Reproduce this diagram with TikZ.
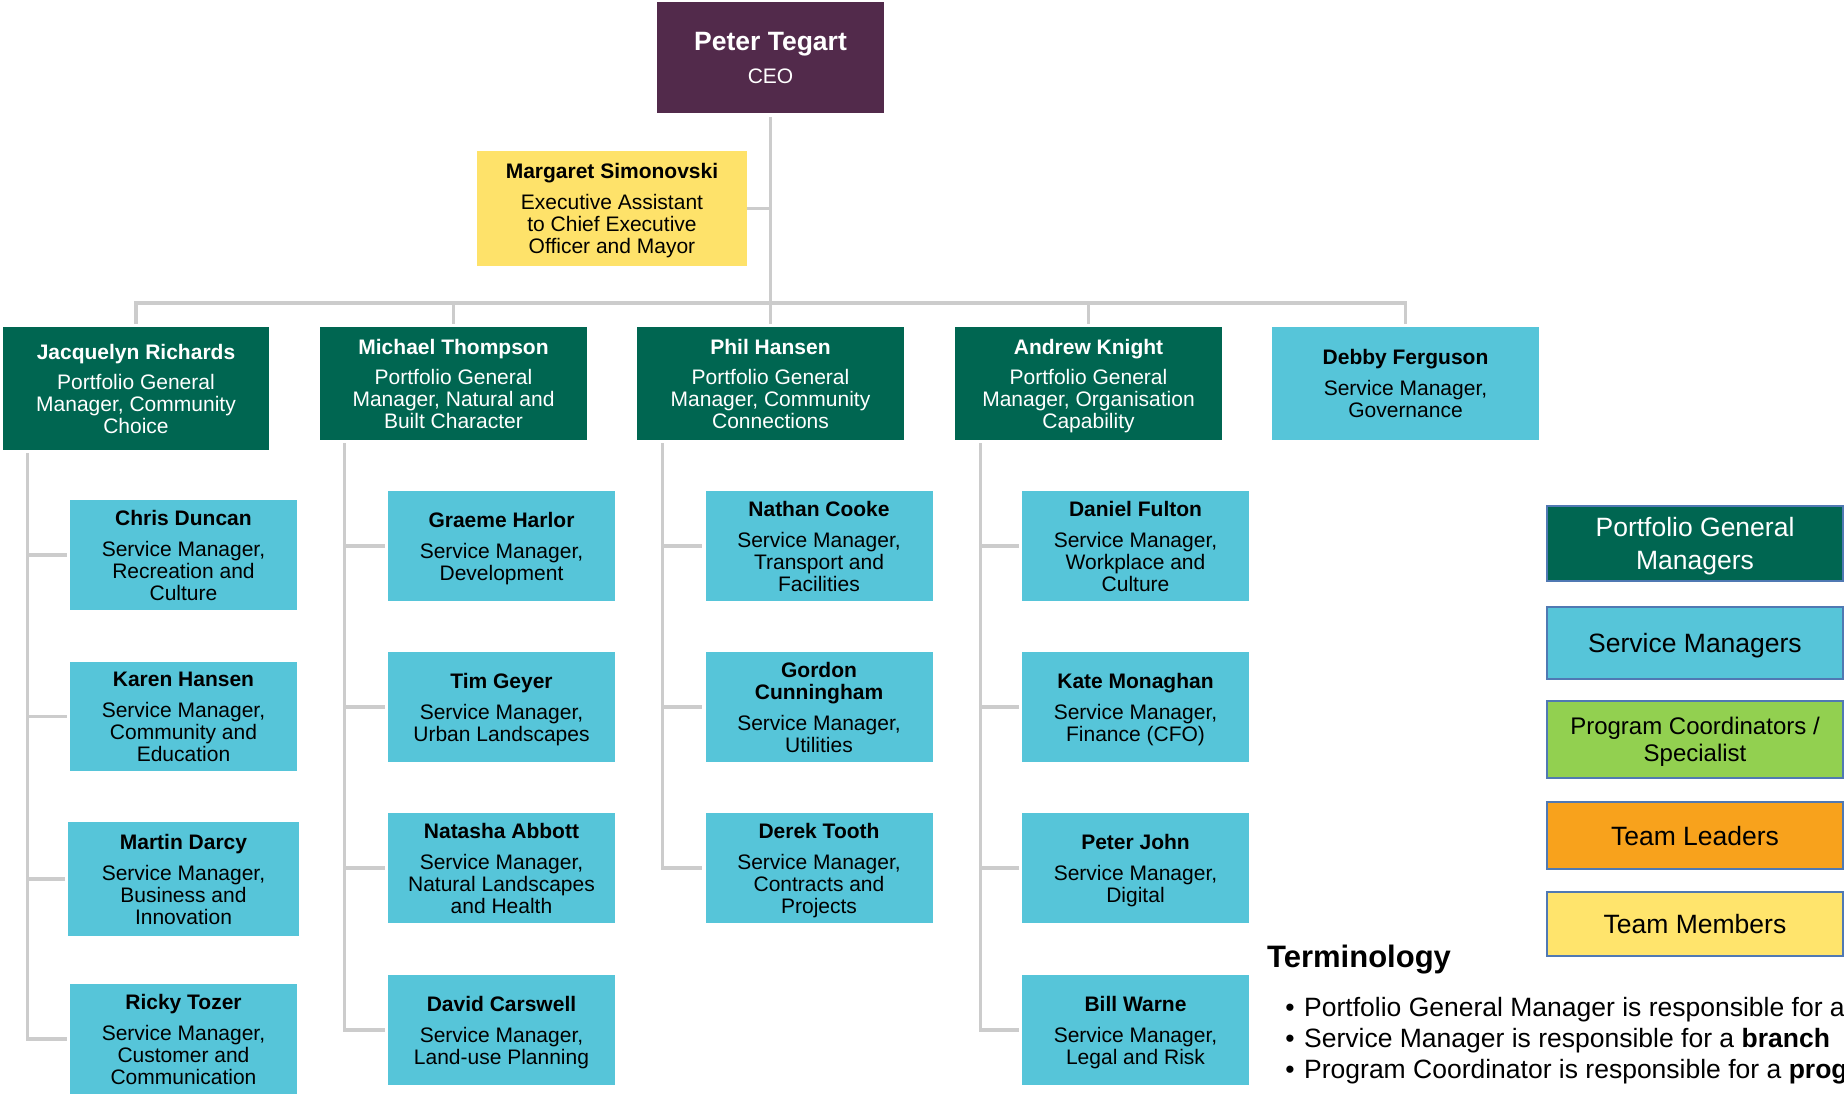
\documentclass[tikz,border=0pt]{standalone}
\usepackage{fontspec}
\setmainfont{Liberation Sans}
\usetikzlibrary{calc}
\definecolor{ceoC}{HTML}{522A4B}
\definecolor{pgmC}{HTML}{006651}
\definecolor{smC}{HTML}{56C5D9}
\definecolor{eaC}{HTML}{FEE26A}
\definecolor{pcC}{HTML}{92D050}
\definecolor{tlC}{HTML}{F8A21C}
\definecolor{tmC}{HTML}{FFE46C}
\definecolor{legB}{HTML}{5079B3}
\definecolor{lineC}{HTML}{CCCCCC}
\tikzset{
  box/.style={inner sep=0pt, align=center, text depth=0pt, font=\fontsize{21}{22}\selectfont},
  pgm/.style={box, fill=pgmC, text=white, minimum width=267pt, minimum height=113pt},
  sm/.style={box, fill=smC, text=black, minimum width=227pt, minimum height=110pt},
  conn/.style={draw=lineC, line width=3.3pt},
  legendbox/.style={draw=legB, line width=2.5pt, minimum width=296pt, align=center,
    text depth=-5pt, font=\fontsize{26.5}{33}\selectfont, inner sep=0pt},
  termtext/.style={anchor=base west, inner sep=0pt, font=\fontsize{26.5}{30}\selectfont},
}
\newcommand{\nm}[1]{\textbf{#1}}
\begin{document}
\begin{tikzpicture}[x=1pt,y=-1pt]
\useasboundingbox (0,0) rectangle (1844,1093);
\fill[white] (0,0) rectangle (1844,1093);

% CEO and assistant
\node[box, fill=ceoC, text=white, minimum width=227pt, minimum height=111pt] (ceo) at (770.5,57.5)
  {{\fontsize{26.5}{28}\selectfont\bfseries Peter Tegart}\\[11pt]CEO};
\node[box, fill=eaC, text=black, minimum width=270pt, minimum height=115pt] (ms) at (612,208.5)
  {\nm{Margaret Simonovski}\\[9pt]Executive Assistant\\to Chief Executive\\Officer and Mayor};

% Portfolio general managers
\node[pgm, minimum width=266pt, minimum height=123pt] (jr) at (136,388.5)
  {\nm{Jacquelyn Richards}\\[8pt]Portfolio General\\Manager, Community\\Choice};
\node[pgm] (mt) at (453.5,383.5)
  {\nm{Michael Thompson}\\[8pt]Portfolio General\\Manager, Natural and\\Built Character};
\node[pgm] (ph) at (770.5,383.5)
  {\nm{Phil Hansen}\\[8pt]Portfolio General\\Manager, Community\\Connections};
\node[pgm] (ak) at (1088.5,383.5)
  {\nm{Andrew Knight}\\[8pt]Portfolio General\\Manager, Organisation\\Capability};
\node[sm, minimum width=267pt, minimum height=113pt] (db) at (1405.5,383.5)
  {\nm{Debby Ferguson}\\[9pt]Service Manager,\\Governance};

% Column 1
\node[sm] (cd) at (183.5,555) {\nm{Chris Duncan}\\[9pt]Service Manager,\\Recreation and\\Culture};
\node[sm, minimum height=109pt] (kh) at (183.5,716.5) {\nm{Karen Hansen}\\[9pt]Service Manager,\\Community and\\Education};
\node[sm, minimum width=231pt, minimum height=114pt] (md) at (183.5,879) {\nm{Martin Darcy}\\[9pt]Service Manager,\\Business and\\Innovation};
\node[sm] (rt) at (183.5,1039) {\nm{Ricky Tozer}\\[9pt]Service Manager,\\Customer and\\Communication};

% Column 2
\node[sm] (gh) at (501.5,546) {\nm{Graeme Harlor}\\[9pt]Service Manager,\\Development};
\node[sm] (tg) at (501.5,707) {\nm{Tim Geyer}\\[9pt]Service Manager,\\Urban Landscapes};
\node[sm] (na) at (501.5,868) {\nm{Natasha Abbott}\\[9pt]Service Manager,\\Natural Landscapes\\and Health};
\node[sm] (dc) at (501.5,1030) {\nm{David Carswell}\\[9pt]Service Manager,\\Land-use Planning};

% Column 3
\node[sm] (nc) at (819,546) {\nm{Nathan Cooke}\\[9pt]Service Manager,\\Transport and\\Facilities};
\node[sm] (gc) at (819,707) {\nm{Gordon}\\\nm{Cunningham}\\[9pt]Service Manager,\\Utilities};
\node[sm] (dt) at (819,868) {\nm{Derek Tooth}\\[9pt]Service Manager,\\Contracts and\\Projects};

% Column 4
\node[sm] (df) at (1135.5,546) {\nm{Daniel Fulton}\\[9pt]Service Manager,\\Workplace and\\Culture};
\node[sm] (km) at (1135.5,707) {\nm{Kate Monaghan}\\[9pt]Service Manager,\\Finance (CFO)};
\node[sm] (pj) at (1135.5,868) {\nm{Peter John}\\[9pt]Service Manager,\\Digital};
\node[sm] (bw) at (1135.5,1030) {\nm{Bill Warne}\\[9pt]Service Manager,\\Legal and Risk};

% Connectors
\coordinate (bus) at (770.5,303);
\draw[conn] ([yshift=-4pt]ceo.south) -- (bus);
\draw[conn] (ms.east) -- (ms.east -| ceo.south);
\draw[conn] ([yshift=3pt]jr.north) |- (bus) -| ([yshift=3pt]db.north);
\draw[conn] ([yshift=3pt]mt.north) -- (mt.north |- bus);
\draw[conn] ([yshift=3pt]ph.north) -- (ph.north |- bus);
\draw[conn] ([yshift=3pt]ak.north) -- (ak.north |- bus);

\foreach \s in {cd,kh,md,rt}
  \draw[conn] ([xshift=25pt,yshift=-3pt]jr.south west) |- ([xshift=-3pt]\s.west);
\foreach \s in {gh,tg,na,dc}
  \draw[conn] ([xshift=25pt,yshift=-3pt]mt.south west) |- ([xshift=-3pt]\s.west);
\foreach \s in {nc,gc,dt}
  \draw[conn] ([xshift=26pt,yshift=-3pt]ph.south west) |- ([xshift=-3pt]\s.west);
\foreach \s in {df,km,pj,bw}
  \draw[conn] ([xshift=26pt,yshift=-3pt]ak.south west) |- ([xshift=-3pt]\s.west);

% Legend
\node[legendbox, fill=pgmC, text=white, minimum height=75pt] (lpgm) at (1695,543.5) {Portfolio General\\Managers};
\node[legendbox, fill=smC, text=black, minimum height=72pt] (lsm) at (1695,643) {Service Managers};
\node[legendbox, fill=pcC, text=black, minimum height=77pt, font=\fontsize{24}{27}\selectfont] (lpc) at (1695,739.5) {Program Coordinators /\\Specialist};
\node[legendbox, fill=tlC, text=black, minimum height=67pt] (ltl) at (1695,835.5) {Team Leaders};
\node[legendbox, fill=tmC, text=black, minimum height=64pt] (ltm) at (1695,924) {Team Members};

% Terminology
\node[anchor=base west, inner sep=0pt, font=\fontsize{31}{34}\selectfont\bfseries] (term) at (1267,967) {Terminology};
\foreach \yy/\nn in {1016/b1,1047/b2,1078/b3}
  \node[anchor=base, inner sep=0pt, font=\fontsize{26.5}{30}\selectfont] (\nn) at (1290,\yy) {•};
\node[termtext] (t1) at (1304,1016) {Portfolio General Manager is responsible for a};
\node[termtext] (t2) at (1304,1047) {Service Manager is responsible for a \textbf{branch}};
\node[termtext] (t3) at (1304,1078) {Program Coordinator is responsible for a \textbf{prog}};
\end{tikzpicture}
\end{document}
